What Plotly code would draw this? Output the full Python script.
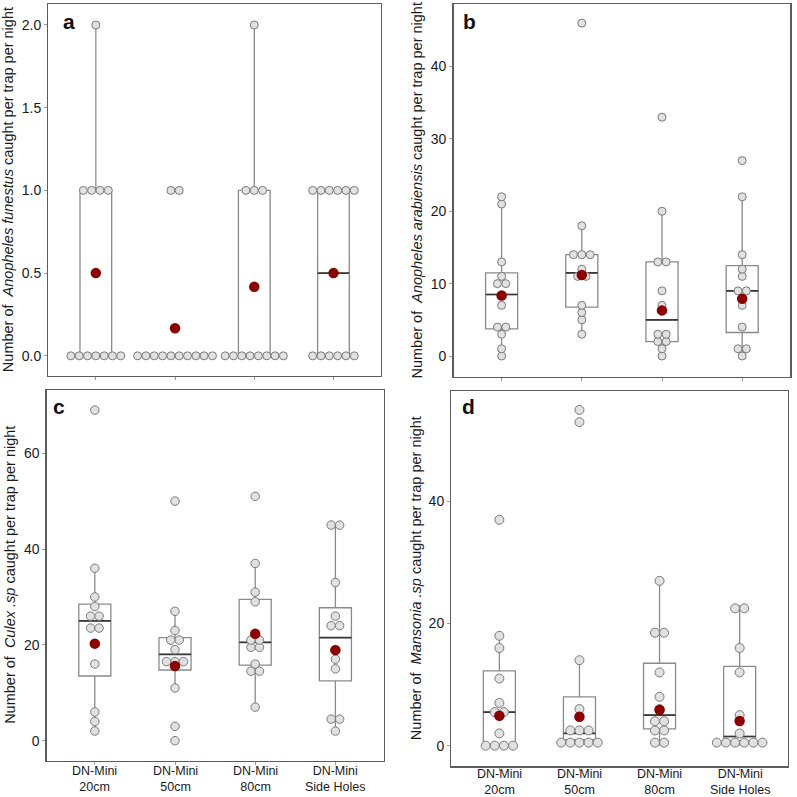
import numpy as np
import plotly.graph_objects as go

# ---------------- data ----------------
categories = ["DN-Mini<br>20cm", "DN-Mini<br>50cm", "DN-Mini<br>80cm", "DN-Mini<br>Side Holes"]

a_20cm = [0, 0, 0, 0, 0, 0, 0, 1, 1, 1, 1, 2]
a_50cm = [0, 0, 0, 0, 0, 0, 0, 0, 0, 0, 1, 1]
a_80cm = [0, 0, 0, 0, 0, 0, 0, 0, 1, 1, 1, 2]
a_side = [0, 0, 0, 0, 0, 0, 1, 1, 1, 1, 1, 1]
means_a = [0.5, 0.167, 0.417, 0.5]

b_20cm = [0, 1, 3, 4, 4, 7, 10, 10, 11, 13, 21, 22]
b_50cm = [3, 5, 6, 7, 11, 11, 12, 14, 14, 14, 18, 46]
b_80cm = [0, 1, 2, 2, 3, 3, 7, 9, 13, 13, 20, 33]
b_side = [0, 1, 1, 4, 7, 9, 9, 11, 12, 14, 22, 27]
means_b = [8.35, 11.2, 6.3, 7.9]

c_20cm = [2, 4, 6, 16, 23, 24, 26, 26, 28, 30, 36, 69]
c_50cm = [0, 3, 11, 16, 17, 17, 19, 21, 21, 23, 27, 50]
c_80cm = [7, 14, 15, 16, 19, 20, 21, 21, 29, 31, 37, 51]
c_side = [2, 4, 5, 15, 17, 19, 24, 24, 26, 33, 45, 45]
means_c = [20.25, 15.6, 22.3, 18.9]

d_20cm = [0, 0, 0, 0, 2, 5, 6, 7, 11, 16, 18, 37]
d_50cm = [0, 0, 1, 1, 1, 2, 2, 3, 6, 14, 53, 55]
d_80cm = [0, 1, 2, 3, 4, 4, 6, 8, 12, 18, 19, 27]
d_side = [0, 0, 0, 1, 1, 1, 2, 5, 12, 16, 22, 23]
means_d = [4.9, 4.75, 5.85, 4.05]

titles = [
    "Number of\u00a0 <i>Anopheles funestus</i> caught per trap per night",
    "Number of\u00a0 <i>Anopheles arabiensis</i> caught per trap per night",
    "Number of\u00a0 <i>Culex .sp</i> caught per trap per night",
    "Number of\u00a0 <i>Mansonia .sp</i> caught per trap per night",
]
letters = ["a", "b", "c", "d"]

# ---------------- layout geometry (pixels) ----------------
W = H = 797
def px(x): return x / W
def py(y): return 1 - y / H

panels = [
    dict(groups=[a_20cm, a_50cm, a_80cm, a_side], means=means_a, binw=0.05, sp=0.105, ms=8,
         frame=(48.3, 381.0, 4.3, 376.0), yr=[-0.122, 2.125],
         tickvals=[0, 0.5, 1.0, 1.5, 2.0], ticktext=["0.0", "0.5", "1.0", "1.5", "2.0"],
         labels=None, tx=8, letter=(61, 21.5)),
    dict(groups=[b_20cm, b_50cm, b_80cm, b_side], means=means_b, binw=1.0, sp=0.104, ms=8,
         frame=(453.5, 790.3, 4.3, 376.7), yr=[-2.86, 48.6],
         tickvals=[0, 10, 20, 30, 40], ticktext=["0", "10", "20", "30", "40"],
         labels=None, tx=416, letter=(461, 21.5)),
    dict(groups=[c_20cm, c_50cm, c_80cm, c_side], means=means_c, binw=1.5, sp=0.106, ms=8.5,
         frame=(46.7, 383.5, 390.0, 760.7), yr=[-4.18, 73.2],
         tickvals=[0, 20, 40, 60], ticktext=["0", "20", "40", "60"],
         labels=779.0, tx=10.5, letter=(50.5, 406.5)),
    dict(groups=[d_20cm, d_50cm, d_80cm, d_side], means=means_d, binw=1.5, sp=0.114, ms=9,
         frame=(451.3, 787.7, 391.0, 766.3), yr=[-3.38, 58.1],
         tickvals=[0, 20, 40], ticktext=["0", "20", "40"],
         labels=782.0, tx=415.5, letter=(460, 406.5)),
]

FONT = "Liberation Sans, Arial, sans-serif"
TXT = "#1a1a1a"
BOX_LINE = "#8a8a8a"
MED_LINE = "#383838"
DOT_FILL = "#e1e1e1"
DOT_LINE = "#7a7a7a"
MEAN_COL = "#8b0000"
BOXW = 0.4


def densitybin(vals, binwidth):
    v = sorted(vals)
    bins = []
    end = -np.inf
    for x in v:
        if x >= end - 1e-9:
            bins.append([x])
            end = x + binwidth
        else:
            bins[-1].append(x)
    ys, offs = [], []
    for b in bins:
        c = (min(b) + max(b)) / 2
        n = len(b)
        for k in range(n):
            ys.append(c)
            offs.append(k - (n - 1) / 2)
    return ys, offs


def box_stats(vals):
    a = np.asarray(vals, dtype=float)
    q1, med, q3 = np.percentile(a, [25, 50, 75])
    iqr = q3 - q1
    lo = a[a >= q1 - 1.5 * iqr].min()
    hi = a[a <= q3 + 1.5 * iqr].max()
    return q1, med, q3, lo, hi


fig = go.Figure()
layout = dict(width=W, height=H, margin=dict(l=0, r=0, t=0, b=0),
              paper_bgcolor="white", plot_bgcolor="white", showlegend=False,
              font=dict(family=FONT, size=14, color=TXT))
annotations = []

for i, p in enumerate(panels):
    sfx = "" if i == 0 else str(i + 1)
    xa, ya = "x" + sfx, "y" + sfx
    positions = list(range(1, len(categories) + 1))

    # boxes
    for pos, g in zip(positions, p["groups"]):
        q1, med, q3, lo, hi = box_stats(g)
        fig.add_trace(go.Box(x=[pos], q1=[q1], median=[med], q3=[q3],
                             lowerfence=[lo], upperfence=[hi], width=BOXW,
                             whiskerwidth=0, boxpoints=False,
                             fillcolor="white", line=dict(color=BOX_LINE, width=1.3),
                             hoverinfo="skip", xaxis=xa, yaxis=ya))
        fig.add_trace(go.Scatter(x=[pos - BOXW / 2, pos + BOXW / 2], y=[med, med],
                                 mode="lines", line=dict(color=MED_LINE, width=1.7),
                                 hoverinfo="skip", xaxis=xa, yaxis=ya))
    # dots
    for pos, g in zip(positions, p["groups"]):
        ys, offs = densitybin(g, p["binw"])
        xs = [pos + o * p["sp"] for o in offs]
        fig.add_trace(go.Scatter(x=xs, y=ys, mode="markers",
                                 marker=dict(size=p["ms"], color=DOT_FILL,
                                             line=dict(color=DOT_LINE, width=1)),
                                 hoverinfo="skip", xaxis=xa, yaxis=ya))
    # means
    fig.add_trace(go.Scatter(x=positions, y=p["means"], mode="markers",
                             marker=dict(size=10.5, color=MEAN_COL),
                             hoverinfo="skip", xaxis=xa, yaxis=ya))

    l, r, t, b = p["frame"]
    layout["xaxis" + sfx] = dict(
        domain=[px(l), px(r)], range=[0.4, 4.6], anchor=ya,
        tickvals=positions, ticktext=[""] * len(positions),
        showticklabels=False, ticks="outside", ticklen=3, tickcolor="#9a9a9a",
        showline=True, mirror=True, linecolor="#5c5c5c", linewidth=1.3,
        showgrid=False, zeroline=False, fixedrange=True)
    layout["yaxis" + sfx] = dict(
        domain=[py(b), py(t)], range=p["yr"], anchor=xa,
        tickvals=p["tickvals"], ticktext=p["ticktext"],
        ticks="outside", ticklen=3, tickcolor="#9a9a9a",
        showline=True, mirror=True, linecolor="#5c5c5c", linewidth=1.3,
        showgrid=False, zeroline=False, fixedrange=True,
        tickfont=dict(family=FONT, size=14, color=TXT))

    # category tick labels, tied to the x axis scale
    if p["labels"]:
        for pos, cat in zip(positions, categories):
            annotations.append(dict(text=cat, x=pos, y=py(p["labels"]),
                                    xref=xa, yref="paper", xanchor="center",
                                    yanchor="middle", showarrow=False, borderpad=0,
                                    font=dict(family=FONT, size=12.5, color=TXT)))

    annotations.append(dict(text=titles[i], x=px(p["tx"]), y=py((t + b) / 2),
                            xref="paper", yref="paper", xanchor="center", yanchor="middle",
                            textangle=-90, showarrow=False,
                            font=dict(family=FONT, size=14.5, color=TXT)))
    annotations.append(dict(text="<b>" + letters[i] + "</b>", x=px(p["letter"][0]),
                            y=py(p["letter"][1]), xref="paper", yref="paper",
                            xanchor="left", yanchor="middle", showarrow=False,
                            font=dict(family=FONT, size=21, color="#111111")))

layout["annotations"] = annotations
fig.update_layout(**layout)
fig.write_html("out.html", config={"displayModeBar": False, "staticPlot": True},
               post_script="document.body.style.margin='0';document.body.style.overflow='hidden';")
